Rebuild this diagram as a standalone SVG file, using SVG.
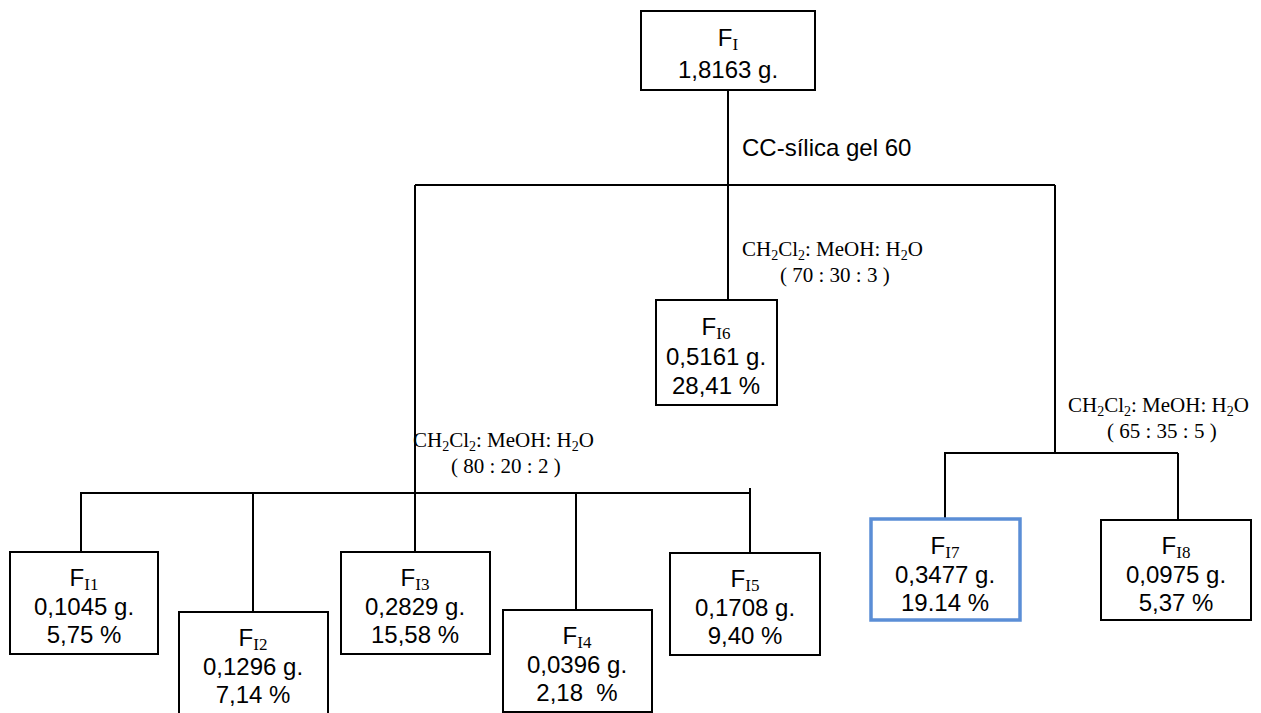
<svg xmlns="http://www.w3.org/2000/svg" width="1261" height="713" viewBox="0 0 1261 713">
<style>
.box{fill:#fff;stroke:#000;stroke-width:2}
.blue{fill:#fff;stroke:#5B8ED6;stroke-width:3.5}
.ln{stroke:#000;stroke-width:2;fill:none}
.t{font-family:"Liberation Sans",Arial,sans-serif;font-size:24px;fill:#000;text-anchor:middle}
.sub{font-family:"Liberation Serif","Times New Roman",serif;font-size:17px}
.lbl{font-family:"Liberation Serif","Times New Roman",serif;font-size:21px;fill:#000}
.lsub{font-size:14px}
.cc{font-family:"Liberation Sans",Arial,sans-serif;font-size:24px;fill:#000}
</style>
<rect width="1261" height="713" fill="#fff"/>
<g id="connectors">
<line class="ln" x1="728" y1="90" x2="728" y2="300"/>
<line class="ln" x1="415" y1="185" x2="1055" y2="185"/>
<line class="ln" x1="415" y1="185" x2="415" y2="552"/>
<line class="ln" x1="1055" y1="185" x2="1055" y2="453"/>
<line class="ln" x1="80" y1="493" x2="750" y2="493"/>
<line class="ln" x1="81" y1="492" x2="81" y2="552"/>
<line class="ln" x1="253" y1="493" x2="253" y2="612"/>
<line class="ln" x1="576" y1="493" x2="576" y2="610"/>
<line class="ln" x1="750" y1="488" x2="750" y2="553"/>
<line class="ln" x1="944" y1="453" x2="1178" y2="453"/>
<line class="ln" x1="945" y1="453" x2="945" y2="518"/>
<line class="ln" x1="1178" y1="453" x2="1178" y2="520"/>
</g>
<g id="labels">
<text class="cc" x="742" y="156">CC-sílica gel 60</text>
<text class="lbl" x="742" y="256">CH<tspan class="lsub" dy="4">2</tspan><tspan dy="-4">Cl</tspan><tspan class="lsub" dy="4">2</tspan><tspan dy="-4">: MeOH: H</tspan><tspan class="lsub" dy="4">2</tspan><tspan dy="-4">O</tspan></text>
<text class="lbl" x="780" y="282">( 70 : 30 : 3 )</text>
<text class="lbl" x="413" y="447">CH<tspan class="lsub" dy="4">2</tspan><tspan dy="-4">Cl</tspan><tspan class="lsub" dy="4">2</tspan><tspan dy="-4">: MeOH: H</tspan><tspan class="lsub" dy="4">2</tspan><tspan dy="-4">O</tspan></text>
<text class="lbl" x="451" y="473">( 80 : 20 : 2 )</text>
<text class="lbl" x="1068" y="412">CH<tspan class="lsub" dy="4">2</tspan><tspan dy="-4">Cl</tspan><tspan class="lsub" dy="4">2</tspan><tspan dy="-4">: MeOH: H</tspan><tspan class="lsub" dy="4">2</tspan><tspan dy="-4">O</tspan></text>
<text class="lbl" x="1107" y="438">( 65 : 35 : 5 )</text>
</g>
<g id="FI">
<rect class="box" x="641" y="11" width="174" height="79"/>
<text class="t" x="728" y="46">F<tspan class="sub" dy="4">I</tspan></text>
<text class="t" x="728" y="78">1,8163 g.</text>
</g>
<g id="FI6">
<rect class="box" x="656" y="300" width="121" height="105"/>
<text class="t" x="716" y="335">F<tspan class="sub" dy="4">I6</tspan></text>
<text class="t" x="716" y="365">0,5161 g.</text>
<text class="t" x="716" y="394">28,41 %</text>
</g>
<g id="FI1">
<rect class="box" x="10" y="552" width="148" height="102"/>
<text class="t" x="84" y="586">F<tspan class="sub" dy="4">I1</tspan></text>
<text class="t" x="84" y="615">0,1045 g.</text>
<text class="t" x="84" y="643">5,75 %</text>
</g>
<g id="FI2">
<rect class="box" x="179" y="612" width="149" height="104"/>
<text class="t" x="253" y="646">F<tspan class="sub" dy="4">I2</tspan></text>
<text class="t" x="253" y="675">0,1296 g.</text>
<text class="t" x="253" y="703">7,14 %</text>
</g>
<g id="FI3">
<rect class="box" x="341" y="552" width="149" height="102"/>
<text class="t" x="415" y="586">F<tspan class="sub" dy="4">I3</tspan></text>
<text class="t" x="415" y="615">0,2829 g.</text>
<text class="t" x="415" y="643">15,58 %</text>
</g>
<g id="FI4">
<rect class="box" x="503" y="610" width="149" height="102"/>
<text class="t" x="577" y="644">F<tspan class="sub" dy="4">I4</tspan></text>
<text class="t" x="577" y="673">0,0396 g.</text>
<text class="t" x="577" y="701">2,18&#160; %</text>
</g>
<g id="FI5">
<rect class="box" x="670" y="553" width="150" height="102"/>
<text class="t" x="745" y="587">F<tspan class="sub" dy="4">I5</tspan></text>
<text class="t" x="745" y="616">0,1708 g.</text>
<text class="t" x="745" y="644">9,40 %</text>
</g>
<g id="FI7">
<rect class="blue" x="871" y="519" width="149" height="101"/>
<text class="t" x="945" y="554">F<tspan class="sub" dy="4">I7</tspan></text>
<text class="t" x="945" y="583">0,3477 g.</text>
<text class="t" x="945" y="611">19.14 %</text>
</g>
<g id="FI8">
<rect class="box" x="1101" y="520" width="150" height="100"/>
<text class="t" x="1176" y="554">F<tspan class="sub" dy="4">I8</tspan></text>
<text class="t" x="1176" y="583">0,0975 g.</text>
<text class="t" x="1176" y="611">5,37 %</text>
</g>
</svg>
